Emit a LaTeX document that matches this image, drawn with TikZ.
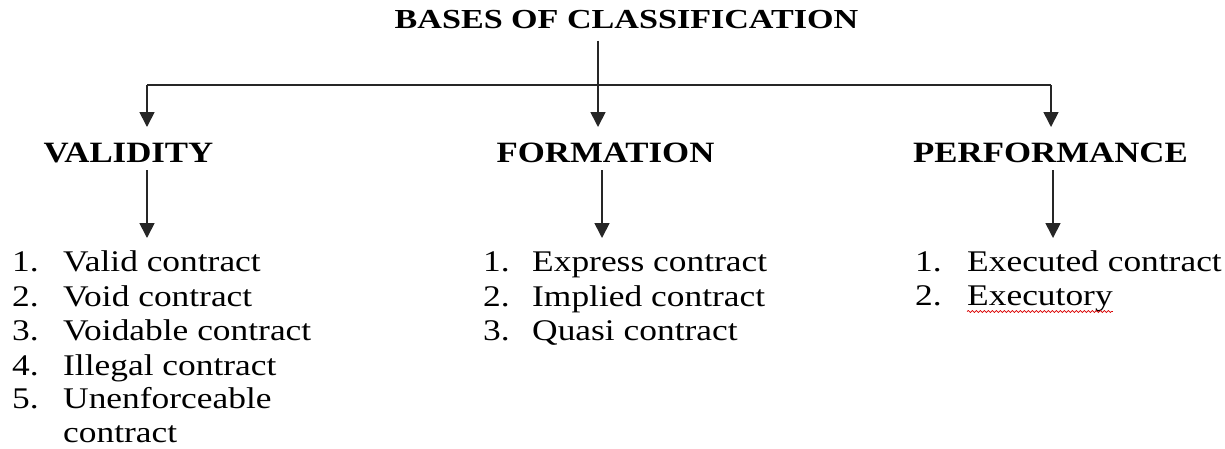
\documentclass[tikz,border=0pt]{standalone}
\usepackage{fontspec}
\setmainfont{Liberation Serif}[FakeStretch=1.18]
\newfontfamily\headfont{Liberation Serif}[FakeStretch=1.18]
\newfontfamily\titlefont{Liberation Serif}[FakeStretch=1.24]
\usetikzlibrary{arrows.meta,decorations.pathmorphing}

\tikzset{
  link/.style={line width=1.7pt, draw=black!85},
  arr/.style={link, -{Triangle[width=15pt,length=15pt]}},
  titletext/.style={inner sep=0pt, anchor=base, font=\titlefont\bfseries\fontsize{27.5}{33}\selectfont},
  headtext/.style={inner sep=0pt, anchor=base, font=\headfont\bfseries\fontsize{29.5}{35}\selectfont},
  itemnum/.style={inner sep=0pt, anchor=base west, font=\fontsize{30}{34.5}\selectfont},
  itemtext/.style={inner sep=0pt, anchor=base west, font=\fontsize{30}{34.5}\selectfont},
  spellmark/.style={draw=red!85!black, line width=0.7pt, decorate,
    decoration={snake, segment length=4pt, amplitude=1pt}}
}

\begin{document}
\begin{tikzpicture}[x=1pt, y=-1pt]
  \useasboundingbox (0,0) rectangle (1225,448);

  % title and the three bases
  \node[titletext] (title) at (626.5,28.5) {BASES OF CLASSIFICATION};
  \node[headtext] (valid) at (128.5,162) {VALIDITY};
  \node[headtext] (form)  at (605.5,162) {FORMATION};
  \node[headtext] (perf)  at (1050.5,162) {PERFORMANCE};

  % branching connector
  \coordinate (hub) at (598,85);
  \coordinate (lt) at (147,85);
  \coordinate (rt) at (1051,85);
  \coordinate (vin) at (147,127);
  \coordinate (fin) at (598,127);
  \coordinate (pin) at (1051,127);
  \draw[link] ([yshift=-12pt]title.base -| hub) -- (hub);
  \draw[link] (lt) -- (rt);
  \draw[arr] (lt) -- (vin);
  \draw[arr] (hub) -- (fin);
  \draw[arr] (rt) -- (pin);

  % arrows down to each list
  \coordinate (vout) at (147,238);
  \coordinate (fout) at (602,238);
  \coordinate (pout) at (1053,238);
  \draw[arr] (valid.base -| vout) ++(0,8) -- (vout);
  \draw[arr] (form.base -| fout) ++(0,8) -- (fout);
  \draw[arr] (perf.base -| pout) ++(0,8) -- (pout);

  % validity list
  \node[itemnum]  (vn1) at (12,271.5) {1.};
  \node[itemtext] (vt1) at (63,271.5) {Valid contract};
  \node[itemnum]  (vn2) at (12,306) {2.};
  \node[itemtext] (vt2) at (63,306) {Void contract};
  \node[itemnum]  (vn3) at (12,340.5) {3.};
  \node[itemtext] (vt3) at (63,340.5) {Voidable contract};
  \node[itemnum]  (vn4) at (12,375) {4.};
  \node[itemtext] (vt4) at (63,375) {Illegal contract};
  \node[itemnum]  (vn5) at (12,408.5) {5.};
  \node[itemtext] (vt5) at (63,408.5) {Unenforceable};
  \node[itemtext] (vt6) at (63,442) {contract};

  % formation list
  \node[itemnum]  (fn1) at (483,271.5) {1.};
  \node[itemtext] (ft1) at (532,271.5) {Express contract};
  \node[itemnum]  (fn2) at (483,306) {2.};
  \node[itemtext] (ft2) at (532,306) {Implied contract};
  \node[itemnum]  (fn3) at (483,340.5) {3.};
  \node[itemtext] (ft3) at (532,340.5) {Quasi contract};

  % performance list
  \node[itemnum]  (pn1) at (915,271) {1.};
  \node[itemtext] (pt1) at (967,271) {Executed contract};
  \node[itemnum]  (pn2) at (915,305.5) {2.};
  \node[itemtext] (pt2) at (967,305.5) {Executory};
  \draw[spellmark] ([yshift=-6pt]pt2.base west) -- ([yshift=-6pt]pt2.base east);
\end{tikzpicture}
\end{document}
